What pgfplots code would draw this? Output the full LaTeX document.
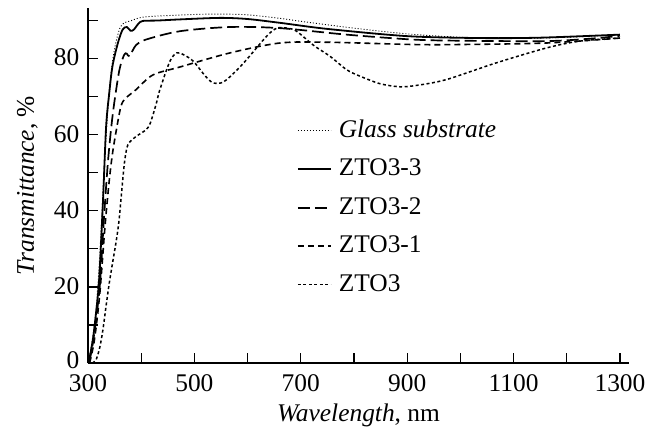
\documentclass[border=0pt]{standalone}
\usepackage{fontspec}
\setmainfont{Liberation Serif}
\usepackage{pgfplots}
\pgfplotsset{compat=1.18}

\begin{document}
\begin{tikzpicture}
\fontsize{25.5}{30}\selectfont
\path[use as bounding box] (-88bp,-71bp) rectangle (572bp,363bp);
\begin{axis}[
    at={(0,0)}, anchor=south west,
    scale only axis,
    width=541bp,
    height=355bp,
    xmin=300, xmax=1317,
    ymin=0, ymax=93.3,
    axis x line=bottom,
    axis y line=left,
    axis line style={-, line width=1.8bp},
    tick align=inside,
    major tick length=10bp,
    minor tick length=10bp,
    tick style={line width=1.3bp, black},
    xtick={300,500,...,1300},
    minor xtick={400,600,...,1200},
    ytick={0,20,...,80},
    yticklabels={\raisebox{4bp}{0},20,40,60,80},
    minor ytick={10,30,...,90},
    /pgf/number format/assume math mode=true,
    /pgf/number format/set thousands separator={},
    xticklabel style={yshift=-3bp},
    yticklabel style={yshift=1bp},
    xlabel={\textit{Wavelength}, nm},
    ylabel={\textit{Transmittance}, \%},
    xlabel style={yshift=5bp},
    ylabel style={yshift=-1bp},
    clip=false,
    legend cell align=left,
    legend image code/.code={\draw[#1] (0bp,0bp) -- (33bp,0bp);},
    legend style={draw=none, fill=none, at={(rel axis cs:0.386,0.69)}, anchor=north west,
        row sep=13.5bp, column sep=7bp, inner sep=0pt,
        nodes={inner sep=0pt, text height=19bp, text depth=6bp}},
]
% Glass substrate
\addplot[smooth, line width=0.9bp, dash pattern=on 1bp off 2bp] coordinates {
(301,0) (308,6) (315,14) (322,28) (330,50) (337,66) (344,77) (352,84) (360,88) (368,89.4)
(380,89.9) (396,90.7) (420,91.1) (500,91.6) (550,91.7) (600,91.5) (660,90.6) (700,89.8)
(800,88) (900,86.5) (1000,85.6) (1100,85.3) (1200,85.6) (1300,86.3)
};
\addlegendentry{\textit{Glass substrate}}
% ZTO3-3
\addplot[smooth, line width=1.8bp] coordinates {
(301,0) (309,6) (315,13) (321,22) (328,42) (334,62) (340,71) (346,78) (356,84) (365,87.6)
(373,88.3) (380,87.3) (386,87.6) (395,89.2) (403,89.9) (430,90) (473,90.3) (548,90.7)
(600,90.4) (661,89.4) (750,87.8) (900,85.9) (1037,85.4) (1150,85.5) (1300,86.3)
};
\addlegendentry{ZTO3-3}
% ZTO3-2
\addplot[smooth, line width=1.7bp, dash pattern=on 12bp off 5bp] coordinates {
(302,0) (310,6) (322,20) (330,38) (337,52) (343,61) (349,68) (359,77) (368,81) (373,81.3)
(378,80.6) (390,83.5) (409,85) (473,87.2) (567,88.3) (661,88) (786,86.3) (911,85)
(1000,84.7) (1162,84.6) (1250,85.3) (1300,86)
};
\addlegendentry{ZTO3-2}
% ZTO3-1
\addplot[smooth, line width=1.6bp, dash pattern=on 6bp off 4bp] coordinates {
(303,0) (312,6) (322,18) (332,36) (340,48) (346,55) (353,61) (362,67.5) (371,69.6)
(390,71.8) (422,75.7) (473,77.8) (567,81.5) (661,84.1) (750,84.3) (911,83.7) (1000,83.7)
(1162,84.1) (1300,85.4)
};
\addlegendentry{ZTO3-1}
% ZTO3
\addplot[smooth, line width=1.5bp, dash pattern=on 3bp off 2.5bp] coordinates {
(308,0) (315,0.8) (322,4) (328,8.7) (334,15) (340,21) (347,27) (353,32) (358,37) (362,43)
(368,52) (373,56.5) (378,58) (390,59.5) (409,61.3) (417,63) (428,68) (435,71.8) (454,79.3)
(467,81.5) (480,81) (498,79.3) (520,75.5) (535,73.6) (550,73.6) (561,74.5) (580,77)
(598,79.7) (636,85.9) (655,88) (675,88) (692,87.2) (724,83.5) (755,80.6) (786,77.1)
(811,75.4) (849,73.4) (886,72.6) (920,73) (974,74.5) (1068,78.9) (1162,82.8) (1225,84.6)
(1300,85.4)
};
\addlegendentry{ZTO3}
\end{axis}
\end{tikzpicture}
\end{document}
